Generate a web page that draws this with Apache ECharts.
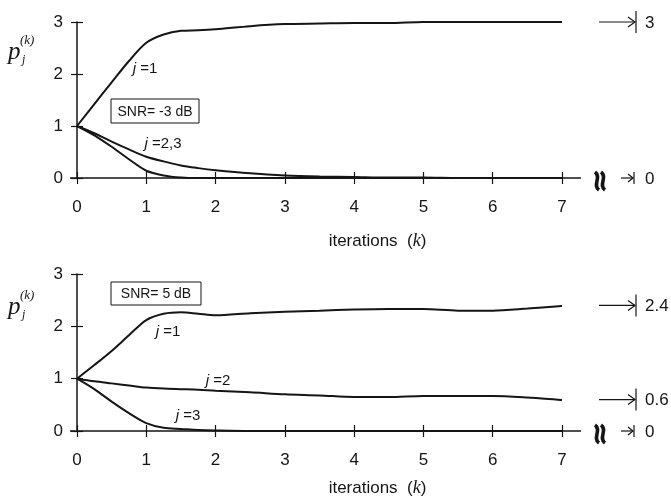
<!DOCTYPE html>
<html><head><meta charset="utf-8">
<script src="https://cdn.jsdelivr.net/npm/echarts@6/dist/echarts.min.js"></script>
<style>html,body{margin:0;padding:0;background:#fff}#c{width:671px;height:502px}</style>
</head><body><div id="c"></div>
<script>
// ---- data ----
const iterations = [0, 0.25, 0.5, 0.75, 1, 1.25, 1.5, 1.75, 2, 2.5, 3, 3.5, 4, 4.5, 5, 5.5, 6, 6.5, 7];
// top panel: SNR = -3 dB
const topJ1 = [1, 1.42, 1.84, 2.25, 2.6, 2.76, 2.83, 2.84, 2.86, 2.92, 2.96, 2.97, 2.98, 2.98, 3.0, 3.0, 3.0, 3.0, 3.0];
const topJ2 = [1, 0.86, 0.7, 0.55, 0.41, 0.32, 0.24, 0.19, 0.15, 0.09, 0.05, 0.03, 0.02, 0.01, 0.01, 0, 0, 0, 0];
const topJ3 = [1, 0.82, 0.6, 0.36, 0.14, 0.05, 0.01, 0, 0, 0, 0, 0, 0, 0, 0, 0, 0, 0, 0];
const topLimits = [3, 0];
// bottom panel: SNR = 5 dB
const botJ1 = [1, 1.26, 1.53, 1.83, 2.12, 2.24, 2.27, 2.24, 2.21, 2.25, 2.28, 2.3, 2.32, 2.33, 2.33, 2.3, 2.3, 2.34, 2.39];
const botJ2 = [1, 0.95, 0.91, 0.87, 0.83, 0.81, 0.8, 0.79, 0.77, 0.74, 0.7, 0.68, 0.65, 0.65, 0.67, 0.67, 0.67, 0.64, 0.59];
const botJ3 = [1, 0.8, 0.56, 0.34, 0.15, 0.06, 0.04, 0.02, 0.01, 0, 0, 0, 0, 0, 0, 0, 0, 0, 0];
const botLimits = [2.4, 0.6, 0];
const limitLabels = { 3: '3', 2.4: '2.4', 0.6: '0.6', 0: '0' };
const xTickMax = 7;
const yTickMax = 3;

const FONT = 'Liberation Sans, Arial, sans-serif';
const SERIF = 'Liberation Serif, Times New Roman, serif';
const INK = '#151515';

const chart = echarts.init(document.getElementById('c'));

function xAxes(grid, gap) {
  return [{
    type: 'value', gridIndex: grid, min: 0, max: xTickMax, interval: 1, position: 'bottom',
    axisLine: { show: true, onZero: false, lineStyle: { color: INK, width: 1.5 } },
    axisTick: { show: true, inside: true, length: 6, lineStyle: { color: INK, width: 1.2 } },
    axisLabel: { margin: 21, fontSize: 17, color: INK, fontFamily: FONT },
    splitLine: { show: false },
    name: 'iterations  ({k|k})', nameLocation: 'middle', nameGap: gap,
    nameTextStyle: { fontSize: 17, color: INK, fontFamily: FONT, padding: [0, 0, 0, 116],
      rich: { k: { fontSize: 18, fontStyle: 'italic', fontFamily: SERIF, color: INK } } }
  }, {
    type: 'value', gridIndex: grid, min: 0, max: xTickMax, interval: 1, position: 'bottom',
    axisLine: { show: false, onZero: false },
    axisTick: { show: true, inside: false, length: 6, lineStyle: { color: INK, width: 1.2 } },
    axisLabel: { show: false }, splitLine: { show: false }
  }];
}
function yAxes(grid) {
  return [{
    type: 'value', gridIndex: grid, min: 0, max: yTickMax, interval: 1, position: 'left',
    axisLine: { show: true, onZero: false, lineStyle: { color: INK, width: 1.5 } },
    axisTick: { show: true, inside: true, length: 6, lineStyle: { color: INK, width: 1.2 } },
    axisLabel: { margin: 14, fontSize: 17, color: INK, fontFamily: FONT },
    splitLine: { show: false }
  }, {
    type: 'value', gridIndex: grid, min: 0, max: yTickMax, interval: 1, position: 'left',
    axisLine: { show: false, onZero: false },
    axisTick: { show: true, inside: false, length: 6, lineStyle: { color: INK, width: 1.2 } },
    axisLabel: { show: false }, splitLine: { show: false }
  }];
}
function line(arr, xi, yi) {
  return {
    type: 'line', xAxisIndex: xi, yAxisIndex: yi, smooth: 0.3,
    symbol: 'none', silent: true,
    lineStyle: { color: INK, width: 2 },
    data: iterations.map((x, i) => [x, arr[i]])
  };
}

chart.setOption({
  animation: false,
  backgroundColor: '#fff',
  grid: [
    { left: 77, top: 22, width: 485, height: 156 },
    { left: 77, top: 274, width: 485, height: 157 }
  ],
  xAxis: [...xAxes(0, 54), ...xAxes(1, 48)],
  yAxis: [...yAxes(0), ...yAxes(1)],
  series: [
    line(topJ1, 0, 0), line(topJ2, 0, 0), line(topJ3, 0, 0),
    line(botJ1, 2, 2), line(botJ2, 2, 2), line(botJ3, 2, 2)
  ]
});

function jLabel(x, y, txt) {
  return {
    type: 'text', x: x, y: y, silent: true,
    style: {
      text: '{j|j} =' + txt, align: 'center', verticalAlign: 'middle',
      font: '15px ' + FONT, fill: INK,
      rich: { j: { fontStyle: 'italic', fontSize: 15, fontFamily: FONT, fill: INK } }
    }
  };
}
function pLabel(dy) {
  return [
    { type: 'text', x: 8, y: 40 + dy, silent: true, style: { text: 'p', font: 'italic 25px ' + SERIF, fill: INK, verticalAlign: 'top' } },
    { type: 'text', x: 22, y: 54 + dy, silent: true, style: { text: 'j', font: 'italic 12px ' + SERIF, fill: INK, verticalAlign: 'top' } },
    { type: 'text', x: 20, y: 34 + dy, silent: true, style: { text: '(k)', font: 'italic 13px ' + SERIF, fill: INK, verticalAlign: 'top' } }
  ];
}
function snrBox(x, y, w, h, txt) {
  return [
    { type: 'rect', shape: { x: x, y: y, width: w, height: h }, silent: true, style: { fill: '#fff', stroke: INK, lineWidth: 1 } },
    { type: 'text', x: x + w / 2, y: y + h / 2 + 1, silent: true, style: { text: txt, font: '14px ' + FONT, fill: INK, align: 'center', verticalAlign: 'middle' } }
  ];
}
function arrow(yPix, big, label) {
  const els = [];
  const x1 = big ? 599 : 621, x2 = big ? 635 : 633, hb = big ? 11 : 6, ah = big ? 5 : 4, aw = big ? 7 : 5;
  els.push({ type: 'line', silent: true, shape: { x1: x1, y1: yPix, x2: x2, y2: yPix }, style: { stroke: INK, lineWidth: 1.2 } });
  els.push({ type: 'polyline', silent: true, shape: { points: [[x2 - aw, yPix - ah], [x2, yPix], [x2 - aw, yPix + ah]] }, style: { stroke: INK, lineWidth: 1.2, fill: null } });
  els.push({ type: 'line', silent: true, shape: { x1: x2 + 1, y1: yPix - hb, x2: x2 + 1, y2: yPix + hb }, style: { stroke: INK, lineWidth: 1.2 } });
  els.push({ type: 'text', x: 645, y: yPix + 1, silent: true, style: { text: label, font: '17px ' + FONT, fill: INK, verticalAlign: 'middle' } });
  return els;
}
function wavy(yPix) {
  const els = [];
  [597, 603].forEach(function (cx) {
    els.push({ type: 'bezierCurve', silent: true,
      shape: { x1: cx - 2, y1: yPix - 9, cpx1: cx + 5, cpy1: yPix - 4, cpx2: cx - 5, cpy2: yPix + 4, x2: cx + 2, y2: yPix + 9 },
      style: { stroke: INK, lineWidth: 3.5, fill: null } });
  });
  return els;
}
function axisExt(xi, yi) {
  const a = chart.convertToPixel({ xAxisIndex: xi, yAxisIndex: yi }, [0, 0]);
  const b = chart.convertToPixel({ xAxisIndex: xi, yAxisIndex: yi }, [xTickMax, 0]);
  return [
    { type: 'line', silent: true, shape: { x1: a[0] - 7, y1: a[1], x2: a[0], y2: a[1] }, style: { stroke: INK, lineWidth: 1.5 } },
    { type: 'line', silent: true, shape: { x1: b[0], y1: b[1], x2: b[0] + 19, y2: b[1] }, style: { stroke: INK, lineWidth: 1.5 } }
  ];
}

let g = [];
g = g.concat(axisExt(0, 0), axisExt(2, 2));
g = g.concat(pLabel(0), pLabel(255));
g = g.concat(snrBox(111, 99, 88, 24, 'SNR= -3 dB'), snrBox(111, 282, 90, 23, 'SNR= 5 dB'));
g.push(jLabel(145, 69, '1'), jLabel(163, 144, '2,3'));
g.push(jLabel(168, 332, '1'), jLabel(218, 381, '2'), jLabel(188, 416, '3'));
topLimits.forEach(function (v) {
  const p = chart.convertToPixel({ xAxisIndex: 0, yAxisIndex: 0 }, [xTickMax, v]);
  if (v === 0) { g = g.concat(wavy(p[1] + 3)); }
  g = g.concat(arrow(p[1], v !== 0, limitLabels[v]));
});
botLimits.forEach(function (v) {
  const p = chart.convertToPixel({ xAxisIndex: 2, yAxisIndex: 2 }, [xTickMax, v]);
  if (v === 0) { g = g.concat(wavy(p[1] + 3)); }
  g = g.concat(arrow(p[1], v !== 0, limitLabels[v]));
});
chart.setOption({ graphic: g });
</script>
</body></html>
